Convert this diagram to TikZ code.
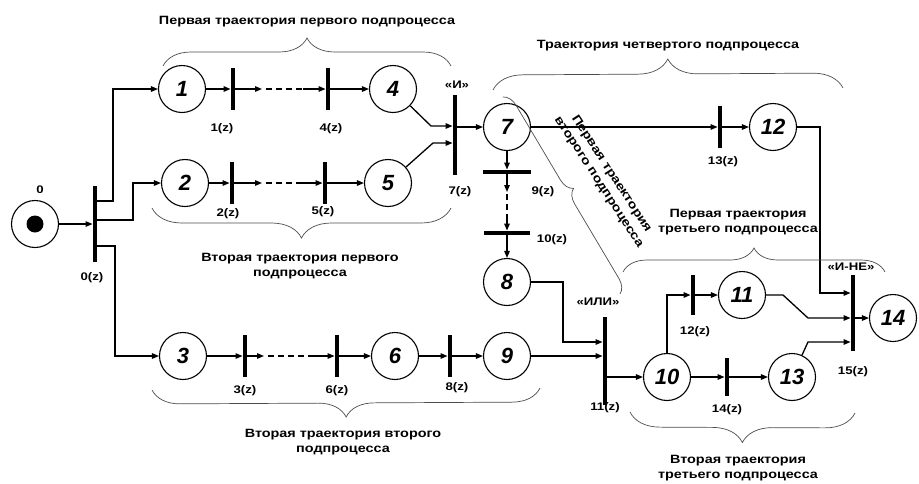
\documentclass[tikz,border=0pt]{standalone}
\usepackage{fontspec}
\setmainfont{Liberation Sans}
\newfontfamily\notefont{Liberation Sans}[FakeStretch=1.2]
\usetikzlibrary{arrows.meta,decorations.pathreplacing,calc,positioning}

\tikzset{
    place/.style={circle, draw, line width=1.1pt, minimum size=47pt, inner sep=0pt,
        font=\fontsize{22}{22}\selectfont\bfseries\itshape},
    token/.style={circle, fill, minimum size=17pt, inner sep=0pt},
    trans/.style={fill, inner sep=0pt, minimum width=4.5pt, minimum height=42pt},
    htrans/.style={fill, inner sep=0pt, minimum width=48pt, minimum height=4.5pt},
    tlabel/.style={font=\notefont\fontsize{11}{12}\selectfont\bfseries},
    note/.style={font=\notefont\fontsize{12}{15}\selectfont\bfseries, align=center},
    flow/.style={line width=1.3pt, -{Triangle[length=7pt,width=5.5pt]}},
    link/.style={line width=1.3pt},
    dots/.style={line width=1.3pt, dash pattern=on 6pt off 4pt},
    brc/.style={decorate, decoration={brace, amplitude=#1}, line width=0.7pt, black!70},
}

\begin{document}
\begin{tikzpicture}[x=1pt, y=-1pt]
\useasboundingbox (0,0) rectangle (919,483);
% places
\node[place] (p0) at (35,224) {};
\node[token] (k0) at (p0) {};
\node[place] (p1) at (182,89) {1};
\node[place] (p4) at (393,89) {4};
\node[place] (p2) at (185,183) {2};
\node[place] (p5) at (388,183) {5};
\node[place] (p3) at (183,356) {3};
\node[place] (p6) at (395,356) {6};
\node[place] (p9) at (507,356) {9};
\node[place] (p7) at (507,127) {7};
\node[place] (p12) at (773,127) {12};
\node[place] (p8) at (507,282) {8};
\node[place] (p10) at (667,377) {10};
\node[place] (p11) at (742,295) {11};
\node[place] (p13) at (792,377) {13};
\node[place] (p14) at (893,318) {14};
% transitions
\node[trans, minimum height=76pt] (t0) at (95,224) {};
\node[trans] (t1) at (233,89) {};
\node[trans] (t4) at (328,89) {};
\node[trans] (t2) at (232,183) {};
\node[trans] (t5) at (325,183) {};
\node[trans, minimum height=80pt] (t7) at (455,135) {};
\node[trans] (t13) at (720,127) {};
\node[htrans] (t9) at (507,172) {};
\node[htrans, minimum width=46pt] (t10) at (507,233) {};
\node[trans] (t3) at (245,356) {};
\node[trans] (t6) at (337,356) {};
\node[trans] (t8) at (450,356) {};
\node[trans, minimum height=88pt] (t11) at (605,361) {};
\node[trans, minimum height=40pt] (t12) at (693,295) {};
\node[trans, minimum height=38pt] (t14) at (727,377) {};
\node[trans, minimum height=76pt] (t15) at (853,313) {};
% gaps in the chains
\coordinate (a1) at (262,89);
\coordinate (b1) at (303,89);
\coordinate (a2) at (262,183);
\coordinate (b2) at (300,183);
\coordinate (a3) at (264,356);
\coordinate (b3) at (310,356);
\coordinate (a7) at (507,192);
\coordinate (b7) at (507,214);
% labels
\node[tlabel] (l0) at (40,190) {0};
\node[tlabel] (lt0) at (92,278) {0(z)};
\node[tlabel] (lt1) at (222,129) {1(z)};
\node[tlabel] (lt4) at (331,129) {4(z)};
\node[tlabel] (lt2) at (228,214) {2(z)};
\node[tlabel] (lt5) at (323,212) {5(z)};
\node[tlabel] (lt7) at (460,192) {7(z)};
\node[tlabel] (lt9) at (543,192) {9(z)};
\node[tlabel] (lt10) at (552,240) {10(z)};
\node[tlabel] (lt13) at (723,162) {13(z)};
\node[tlabel] (lt3) at (245,391) {3(z)};
\node[tlabel] (lt6) at (337,391) {6(z)};
\node[tlabel] (lt8) at (457,388) {8(z)};
\node[tlabel] (lt11) at (605,408) {11(z)};
\node[tlabel] (lt12) at (695,332) {12(z)};
\node[tlabel] (lt14) at (727,410) {14(z)};
\node[tlabel] (lt15) at (853,372) {15(z)};
\node[tlabel] (g7) at (457,85) {«И»};
\node[tlabel] (g11) at (598,302) {«ИЛИ»};
\node[tlabel] (g15) at (851,267) {«И-НЕ»};
% arcs
\draw
    (p0) edge[flow] (t0)
    (p1) edge[flow] (t1)
    (t1) edge[flow] (a1)
    (b1) edge[flow] (t4)
    (t4) edge[flow] (p4)
    (p2) edge[flow] (t2)
    (t2) edge[flow] (a2)
    (b2) edge[flow] (t5)
    (t5) edge[flow] (p5)
    (p3) edge[flow] (t3)
    (t3) edge[flow] (a3)
    (b3) edge[flow] (t6)
    (t6) edge[flow] (p6)
    (p6) edge[flow] (t8)
    (t8) edge[flow] (p9)
    (p7) edge[flow] (t9)
    (t9) edge[flow] (a7)
    (b7) edge[flow] (t10)
    (t10) edge[flow] (p8)
    (p7) edge[flow] (t13)
    (t13) edge[flow] (p12)
    (p9) edge[flow] (t11.west |- p9)
    (t11.east |- p10) edge[flow] (p10)
    (p10) edge[flow] (t14)
    (t14) edge[flow] (p13)
    (t12) edge[flow] (p11)
    (t7.east |- p7) edge[flow] (p7)
    (t15.east |- p14) edge[flow] (p14);
\draw[dots, shorten <=4pt] (a1) -- (b1);
\draw[dots, shorten <=4pt] (a2) -- (b2);
\draw[dots, shorten <=4pt] (a3) -- (b3);
\draw[dots, shorten <=2pt] (a7) -- (b7);
\draw[flow] (t0.east |- 0,201) -- (113,201) |- (p1);
\draw[flow] (t0.east |- 0,220) -- (133,220) |- (p2);
\draw[flow] (t0.east |- 0,246) -- (115,246) |- (p3);
\draw[flow] (p4) -- (431,126) -- (t7.west |- 0,126);
\draw[flow] (p5) -- (433,143) -- (t7.west |- 0,143);
\draw[flow] (p8.east) -| (563,342) -- (t11.west |- 0,342);
\draw[flow] (p10.north) |- (t12);
\draw[flow] (p12.east) -| (820,293) -- (t15.west |- 0,293);
\draw[flow] (p11.east) -- (783,295) -- (808,318) -- (t15.west |- 0,318);
\draw[flow] (p13) -- (808,342) -- (t15.west |- 0,342);
% braces and their texts
\draw[brc=28pt] (163,66) -- (451,66);
\node[note] (n1) at (307,22) {Первая траектория первого подпроцесса};
\draw[brc=30pt] (451,208) -- (152,208);
\node[note] (n2) at (300,266) {Вторая траектория первого\\подпроцесса};
\draw[brc=30pt] (493,90) -- (843,88);
\node[note] (n3) at (668,46) {Траектория четвертого подпроцесса};
\draw[brc=14pt] (503,97) -- (620,294);
\node[note, rotate=-57] (n4) at (605,178) {Первая траектория\\второго подпроцесса};
\draw[brc=24pt] (623,272) -- (885,272);
\node[note] (n5) at (738,222) {Первая траектория\\третьего подпроцесса};
\draw[brc=28pt] (540,388) -- (152,390);
\node[note] (n6) at (343,442) {Вторая траектория второго\\подпроцесса};
\draw[brc=30pt] (855,413) -- (630,412);
\node[note] (n7) at (738,468) {Вторая траектория\\третьего подпроцесса};
\end{tikzpicture}
\end{document}
